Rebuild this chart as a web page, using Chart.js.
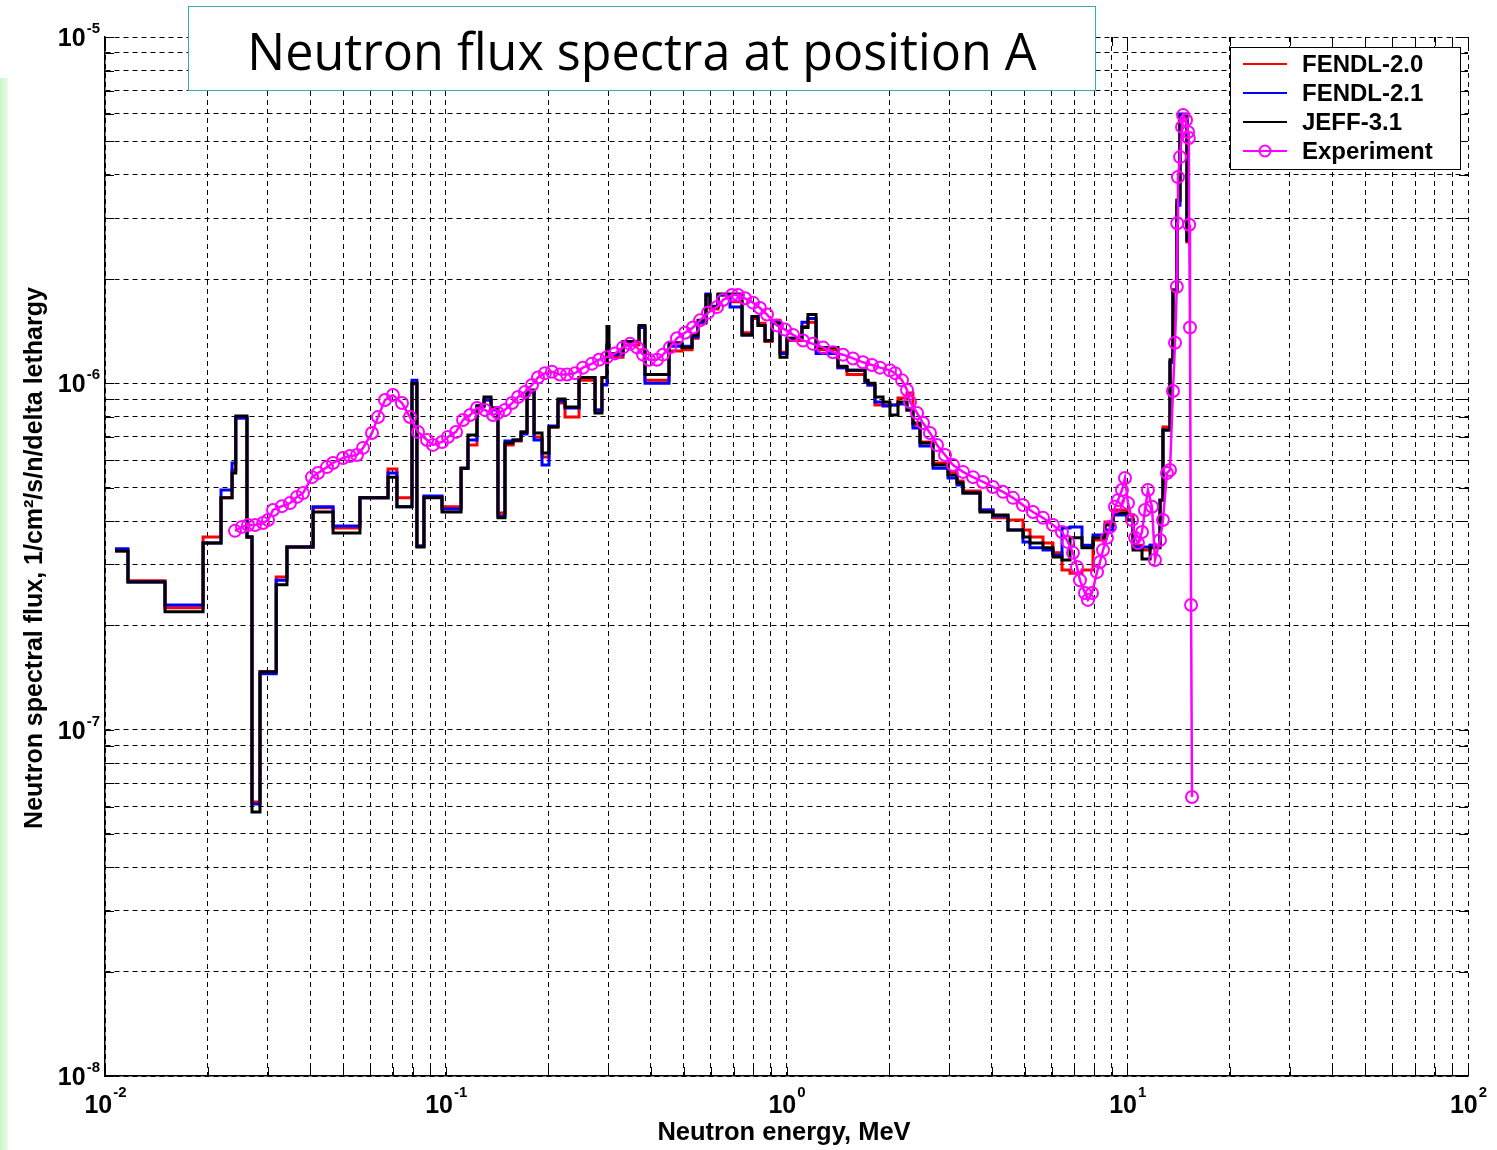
<!DOCTYPE html>
<html>
<head>
<meta charset="utf-8">
<title>Neutron flux spectra at position A</title>
<script src="https://cdn.jsdelivr.net/npm/chart.js@4.4.1/dist/chart.umd.min.js"></script>
<style>
  html, body { margin: 0; padding: 0; background: #fff; }
  #wrap { position: relative; width: 1497px; height: 1150px; overflow: hidden; }
  #strip { position: absolute; left: 0; top: 78px; width: 8px; height: 1072px;
           background: linear-gradient(to right, #c6f6c6, #e8fbe8); }
  #chart { position: absolute; left: 0; top: 0; }
  #title { position: absolute; left: 188px; top: 6px; width: 906px; height: 83px;
           border: 1.5px solid #3aabab; background: #fff;
           display: flex; align-items: center; justify-content: center;
           font-family: "Open Sans", "DejaVu Sans", sans-serif; color: #000; white-space: nowrap; }
</style>
</head>
<body>
<div id="wrap">
  <div id="strip"></div>
  <canvas id="chart" width="1497" height="1150"></canvas>
  <div id="title"><span id="titleText">Neutron flux spectra at position A</span></div>
</div>
<script>
// Group boundaries (MeV) shared by the three calculated spectra
const edgesMeV = [
  0.0107, 0.01168, 0.0150, 0.0194, 0.0219, 0.0236, 0.0242, 0.0261, 0.0270, 0.0285,
  0.0318, 0.0342, 0.0408, 0.0467, 0.0560, 0.0677, 0.0719, 0.0796, 0.0823, 0.0863,
  0.0975, 0.1109, 0.1162, 0.1235, 0.1295, 0.1358, 0.1423, 0.1492, 0.1576, 0.1663,
  0.1732, 0.1816, 0.1917, 0.2009, 0.2135, 0.2239, 0.2461, 0.2742, 0.2873, 0.2972,
  0.3013, 0.3313, 0.3692, 0.3843, 0.4521, 0.4936, 0.5282, 0.5500, 0.5804, 0.5963,
  0.6295, 0.6827, 0.7404, 0.7924, 0.8252, 0.8650, 0.9067, 0.9570, 1.003, 1.110,
  1.156, 1.221, 1.360, 1.416, 1.505, 1.700, 1.735, 1.818, 1.920, 2.012,
  2.124, 2.257, 2.350, 2.465, 2.691, 2.979, 3.165, 3.296, 3.698, 4.036,
  4.467, 4.943, 5.183, 5.658, 6.053, 6.434, 6.792, 7.365, 7.934, 8.605,
  9.082, 9.98, 10.40, 11.05, 11.67, 12.48, 12.73, 13.35, 13.62, 13.99,
  14.28, 14.97, 15.28
];

const fendl20 = [
  3.28e-7, 2.69e-7, 2.25e-7, 3.60e-7, 4.67e-7, 5.62e-7, 7.94e-7, 3.60e-7, 6.18e-8, 1.47e-7,
  2.76e-7, 3.37e-7, 4.37e-7, 3.82e-7, 4.67e-7, 5.66e-7, 4.67e-7, 9.96e-7, 3.39e-7, 4.70e-7,
  4.40e-7, 5.69e-7, 6.64e-7, 8.60e-7, 8.95e-7, 8.49e-7, 4.22e-7, 6.64e-7, 6.82e-7, 7.24e-7,
  9.44e-7, 7.00e-7, 6.13e-7, 7.48e-7, 8.77e-7, 7.99e-7, 1.02e-6, 8.38e-7, 1.04e-6, 1.29e-6,
  1.19e-6, 1.29e-6, 1.45e-6, 1.02e-6, 1.24e-6, 1.25e-6, 1.35e-6, 1.49e-6, 1.80e-6, 1.64e-6,
  1.80e-6, 1.72e-6, 1.40e-6, 1.54e-6, 1.49e-6, 1.32e-6, 1.52e-6, 1.23e-6, 1.33e-6, 1.46e-6,
  1.50e-6, 1.25e-6, 1.25e-6, 1.11e-6, 1.06e-6, 1.01e-6, 9.89e-7, 8.66e-7, 8.66e-7, 8.66e-7,
  9.07e-7, 9.38e-7, 7.58e-7, 6.77e-7, 5.89e-7, 5.55e-7, 5.22e-7, 4.89e-7, 4.31e-7, 4.09e-7,
  4.03e-7, 3.77e-7, 3.60e-7, 3.46e-7, 3.24e-7, 2.89e-7, 2.83e-7, 2.89e-7, 3.53e-7, 3.98e-7,
  4.31e-7, 4.17e-7, 3.41e-7, 3.30e-7, 3.41e-7, 4.60e-7, 7.48e-7, 1.15e-6, 1.86e-6, 3.38e-6,
  5.91e-6, 2.56e-6
];

const fendl21 = [
  3.33e-7, 2.67e-7, 2.29e-7, 3.46e-7, 4.92e-7, 5.89e-7, 7.94e-7, 3.60e-7, 6.10e-8, 1.45e-7,
  2.70e-7, 3.37e-7, 4.40e-7, 3.87e-7, 4.67e-7, 5.51e-7, 4.40e-7, 1.02e-6, 3.39e-7, 4.73e-7,
  4.34e-7, 5.69e-7, 6.86e-7, 8.60e-7, 8.95e-7, 8.38e-7, 4.14e-7, 6.82e-7, 6.86e-7, 7.14e-7,
  9.44e-7, 6.86e-7, 5.81e-7, 7.53e-7, 8.89e-7, 8.49e-7, 1.04e-6, 8.38e-7, 9.89e-7, 1.29e-6,
  1.21e-6, 1.32e-6, 1.45e-6, 1.00e-6, 1.28e-6, 1.28e-6, 1.36e-6, 1.50e-6, 1.81e-6, 1.67e-6,
  1.80e-6, 1.66e-6, 1.38e-6, 1.56e-6, 1.47e-6, 1.33e-6, 1.50e-6, 1.22e-6, 1.35e-6, 1.50e-6,
  1.54e-6, 1.22e-6, 1.22e-6, 1.11e-6, 1.09e-6, 1.01e-6, 9.89e-7, 8.83e-7, 8.60e-7, 8.66e-7,
  8.72e-7, 8.38e-7, 7.43e-7, 6.59e-7, 5.69e-7, 5.33e-7, 5.09e-7, 4.82e-7, 4.31e-7, 4.14e-7,
  3.77e-7, 3.48e-7, 3.35e-7, 3.30e-7, 3.19e-7, 3.82e-7, 3.85e-7, 3.41e-7, 3.65e-7, 3.77e-7,
  4.17e-7, 4.03e-7, 3.37e-7, 3.37e-7, 3.41e-7, 4.60e-7, 7.33e-7, 1.15e-6, 1.84e-6, 3.27e-6,
  5.99e-6, 2.59e-6
];

const jeff31 = [
  3.28e-7, 2.67e-7, 2.19e-7, 3.46e-7, 4.67e-7, 5.51e-7, 8.05e-7, 3.60e-7, 5.78e-8, 1.47e-7,
  2.62e-7, 3.37e-7, 4.25e-7, 3.70e-7, 4.67e-7, 5.36e-7, 4.40e-7, 1.00e-6, 3.37e-7, 4.67e-7,
  4.25e-7, 5.69e-7, 7.09e-7, 8.60e-7, 9.13e-7, 8.49e-7, 4.09e-7, 6.73e-7, 6.86e-7, 7.24e-7,
  9.57e-7, 7.19e-7, 6.29e-7, 7.48e-7, 9.01e-7, 8.54e-7, 1.04e-6, 8.21e-7, 1.04e-6, 1.46e-6,
  1.22e-6, 1.32e-6, 1.47e-6, 1.06e-6, 1.31e-6, 1.27e-6, 1.38e-6, 1.52e-6, 1.80e-6, 1.66e-6,
  1.81e-6, 1.81e-6, 1.38e-6, 1.56e-6, 1.47e-6, 1.33e-6, 1.49e-6, 1.19e-6, 1.35e-6, 1.45e-6,
  1.58e-6, 1.27e-6, 1.27e-6, 1.12e-6, 1.09e-6, 1.02e-6, 1.00e-6, 9.13e-7, 8.83e-7, 8.10e-7,
  8.83e-7, 8.38e-7, 7.68e-7, 6.73e-7, 5.81e-7, 5.44e-7, 5.16e-7, 4.82e-7, 4.25e-7, 4.17e-7,
  3.77e-7, 3.60e-7, 3.46e-7, 3.35e-7, 3.15e-7, 3.09e-7, 3.58e-7, 3.35e-7, 3.58e-7, 3.90e-7,
  4.22e-7, 4.03e-7, 3.30e-7, 3.11e-7, 3.35e-7, 4.60e-7, 7.33e-7, 1.17e-6, 1.86e-6, 3.38e-6,
  5.91e-6, 2.59e-6
];

// Measured spectrum
const expEnergy = [
  0.02407, 0.02524, 0.02628, 0.02756, 0.02909, 0.03009, 0.03112, 0.03307, 0.03491, 0.0366,
  0.03811, 0.0405, 0.04218, 0.04482, 0.04668, 0.04994, 0.05236, 0.05489, 0.05717, 0.06075,
  0.06326, 0.06632, 0.0700, 0.0744, 0.07854, 0.0829, 0.08811, 0.09174, 0.0975, 0.1015,
  0.1072, 0.1124, 0.1179, 0.1235, 0.1304, 0.1376, 0.1423, 0.1492, 0.1565, 0.1630,
  0.1708, 0.1791, 0.1865, 0.1955, 0.2050, 0.2164, 0.2269, 0.2396, 0.2527, 0.2687,
  0.2818, 0.2972, 0.3138, 0.3313, 0.3473, 0.3642, 0.3793, 0.3950, 0.4169, 0.4341,
  0.4551, 0.4771, 0.5037, 0.5318, 0.5576, 0.5886, 0.6252, 0.6511, 0.6921, 0.7207,
  0.7555, 0.7975, 0.8360, 0.8765, 0.9378, 0.9899, 1.045, 1.118, 1.196, 1.280,
  1.369, 1.465, 1.567, 1.677, 1.782, 1.881, 2.012, 2.082, 2.183, 2.258,
  2.304, 2.416, 2.516, 2.637, 2.765, 2.919, 3.081, 3.296, 3.527, 3.773,
  4.036, 4.318, 4.620, 4.943, 5.289, 5.658, 6.053, 6.433, 6.700, 6.930,
  7.120, 7.265, 7.515, 7.669, 7.880, 8.151, 8.318, 8.488, 8.721, 8.900,
  9.206, 9.395, 9.651, 9.849, 10.05, 10.33, 10.54, 10.75, 11.05, 11.27,
  11.50, 11.82, 12.06, 12.48, 12.73, 13.08, 13.35, 13.62, 13.81, 13.98,
  14.02, 14.09, 14.29, 14.48, 14.58, 14.88, 15.08, 15.16, 15.20, 15.28,
  15.39, 15.49
];
const expFlux = [
  3.75e-7, 3.85e-7, 3.90e-7, 3.90e-7, 3.95e-7, 4.03e-7, 4.31e-7, 4.42e-7, 4.51e-7, 4.70e-7,
  4.82e-7, 5.36e-7, 5.51e-7, 5.73e-7, 5.89e-7, 6.09e-7, 6.17e-7, 6.21e-7, 6.51e-7, 7.19e-7,
  7.99e-7, 8.95e-7, 9.25e-7, 8.77e-7, 7.99e-7, 7.24e-7, 6.86e-7, 6.64e-7, 6.77e-7, 7.00e-7,
  7.24e-7, 7.84e-7, 8.10e-7, 8.49e-7, 8.38e-7, 8.10e-7, 8.21e-7, 8.38e-7, 8.77e-7, 9.13e-7,
  9.44e-7, 9.89e-7, 1.04e-6, 1.07e-6, 1.08e-6, 1.06e-6, 1.06e-6, 1.07e-6, 1.11e-6, 1.14e-6,
  1.17e-6, 1.19e-6, 1.22e-6, 1.27e-6, 1.30e-6, 1.27e-6, 1.21e-6, 1.17e-6, 1.17e-6, 1.21e-6,
  1.27e-6, 1.35e-6, 1.40e-6, 1.45e-6, 1.52e-6, 1.60e-6, 1.66e-6, 1.74e-6, 1.80e-6, 1.80e-6,
  1.76e-6, 1.71e-6, 1.65e-6, 1.58e-6, 1.47e-6, 1.43e-6, 1.38e-6, 1.33e-6, 1.30e-6, 1.27e-6,
  1.23e-6, 1.21e-6, 1.18e-6, 1.15e-6, 1.13e-6, 1.11e-6, 1.09e-6, 1.07e-6, 1.02e-6, 9.57e-7,
  8.83e-7, 8.21e-7, 7.68e-7, 7.19e-7, 6.64e-7, 6.21e-7, 5.81e-7, 5.55e-7, 5.36e-7, 5.19e-7,
  5.02e-7, 4.86e-7, 4.67e-7, 4.45e-7, 4.25e-7, 4.09e-7, 3.90e-7, 3.72e-7, 3.48e-7, 3.24e-7,
  2.95e-7, 2.70e-7, 2.48e-7, 2.37e-7, 2.48e-7, 2.85e-7, 3.05e-7, 3.30e-7, 3.58e-7, 3.85e-7,
  4.40e-7, 4.60e-7, 4.92e-7, 5.33e-7, 4.51e-7, 4.03e-7, 3.58e-7, 3.46e-7, 3.72e-7, 4.31e-7,
  4.92e-7, 4.40e-7, 3.09e-7, 3.53e-7, 4.03e-7, 5.51e-7, 5.62e-7, 9.50e-7, 1.31e-6, 1.90e-6,
  2.90e-6, 3.94e-6, 4.50e-6, 5.50e-6, 5.95e-6, 5.76e-6, 5.32e-6, 5.11e-6, 2.87e-6, 1.45e-6,
  2.29e-7, 6.39e-8
];

// Axes
const xDecades = [0.01, 0.1, 1, 10];
const yDecades = [1e-8, 1e-7, 1e-6];
const gridMultipliers = [1, 2, 3, 4, 5, 6, 7, 8, 9];
const xTickValues = [0.01, 0.1, 1, 10, 100];
const xTickExponents = ['-2', '-1', '0', '1', '2'];
const yTickValues = [1e-8, 1e-7, 1e-6, 1e-5];
const yTickExponents = ['-8', '-7', '-6', '-5'];

function gridValues(decades, last) {
  const out = [];
  decades.forEach(d => gridMultipliers.forEach(m => out.push(parseFloat((m * d).toPrecision(3)))));
  out.push(last);
  return out;
}
const xGridValues = gridValues(xDecades, 100);
const yGridValues = gridValues(yDecades, 1e-5);

function stairs(edges, values) {
  const pts = values.map((v, i) => ({ x: edges[i], y: v }));
  pts.push({ x: edges[edges.length - 1], y: values[values.length - 1] });
  return pts;
}

const LABEL_FONT = '"Liberation Sans", Arial, sans-serif';

// tick labels, axis titles, inner tick marks and legend box
const decorations = {
  id: 'decorations',
  afterDraw(chart) {
    const { ctx, chartArea: a, scales: { x, y } } = chart;
    ctx.save();

    ctx.strokeStyle = '#000';
    ctx.lineWidth = 1;
    ctx.setLineDash([]);
    ctx.beginPath();
    xGridValues.forEach(v => {
      const px = Math.round(x.getPixelForValue(v)) + 0.5;
      ctx.moveTo(px, a.bottom); ctx.lineTo(px, a.bottom - 9);
      ctx.moveTo(px, a.top); ctx.lineTo(px, a.top + 9);
    });
    yGridValues.forEach(v => {
      const py = Math.round(y.getPixelForValue(v)) + 0.5;
      ctx.moveTo(a.left, py); ctx.lineTo(a.left + 9, py);
      ctx.moveTo(a.right, py); ctx.lineTo(a.right - 9, py);
    });
    ctx.stroke();

    ctx.fillStyle = '#000';
    ctx.textBaseline = 'alphabetic';
    const baseFont = 'bold 25px ' + LABEL_FONT;
    const expFont = 'bold 15px ' + LABEL_FONT;

    xTickValues.forEach((v, i) => {
      const px = x.getPixelForValue(v);
      ctx.font = baseFont;
      const wb = ctx.measureText('10').width;
      ctx.font = expFont;
      const we = ctx.measureText(xTickExponents[i]).width;
      const left = px - (wb + we) / 2;
      ctx.font = baseFont;
      ctx.fillText('10', left, a.bottom + 37);
      ctx.font = expFont;
      ctx.fillText(xTickExponents[i], left + wb + 1, a.bottom + 21);
    });

    yTickValues.forEach((v, i) => {
      const py = y.getPixelForValue(v);
      ctx.font = expFont;
      const we = ctx.measureText(yTickExponents[i]).width;
      ctx.font = baseFont;
      const wb = ctx.measureText('10').width;
      const right = a.left - 5;
      ctx.font = baseFont;
      ctx.fillText('10', right - we - wb - 1, py + 9);
      ctx.font = expFont;
      ctx.fillText(yTickExponents[i], right - we, py - 4);
    });

    ctx.font = 'bold 25.5px ' + LABEL_FONT;
    ctx.textAlign = 'center';
    ctx.textBaseline = 'middle';
    ctx.fillText('Neutron energy, MeV', 784, 1133);
    ctx.save();
    ctx.translate(35, 558);
    ctx.rotate(-Math.PI / 2);
    ctx.font = 'bold 25px ' + LABEL_FONT;
    ctx.fillText('Neutron spectral flux, 1/cm\u00B2/s/n/delta lethargy', 0, 0);
    ctx.restore();

    // legend
    const lx = 1230.5, ly = 47.5, lw = 230, lh = 122;
    ctx.fillStyle = '#fff';
    ctx.fillRect(lx, ly, lw, lh);
    ctx.strokeStyle = '#000';
    ctx.lineWidth = 1;
    ctx.strokeRect(lx, ly, lw, lh);
    ctx.textAlign = 'left';
    ctx.font = 'bold 24px ' + LABEL_FONT;
    chart.data.datasets.forEach((ds, i) => {
      const rowY = 64 + i * 29;
      ctx.strokeStyle = ds.borderColor;
      ctx.lineWidth = 2;
      ctx.beginPath();
      ctx.moveTo(1243, rowY); ctx.lineTo(1287, rowY);
      ctx.stroke();
      if (ds.pointRadius > 0) {
        ctx.beginPath();
        ctx.arc(1265, rowY, 5.5, 0, Math.PI * 2);
        ctx.stroke();
      }
      ctx.fillStyle = '#000';
      ctx.fillText(ds.label, 1302, rowY + 1);
    });

    ctx.restore();
  }
};

const lineStyle = { borderWidth: 3, pointRadius: 0, stepped: true, fill: false };

new Chart(document.getElementById('chart'), {
  type: 'line',
  data: {
    datasets: [
      Object.assign({ label: 'FENDL-2.0', data: stairs(edgesMeV, fendl20), borderColor: '#ff0000', order: 3 }, lineStyle),
      Object.assign({ label: 'FENDL-2.1', data: stairs(edgesMeV, fendl21), borderColor: '#0000ff', order: 2 }, lineStyle),
      Object.assign({ label: 'JEFF-3.1', data: stairs(edgesMeV, jeff31), borderColor: '#000000', order: 1 }, lineStyle),
      {
        label: 'Experiment',
        data: expEnergy.map((e, i) => ({ x: e, y: expFlux[i] })),
        borderColor: '#ff00ff',
        borderWidth: 2.5,
        pointRadius: 6,
        pointBorderWidth: 2,
        pointBackgroundColor: 'rgba(0,0,0,0)',
        pointBorderColor: '#ff00ff',
        fill: false,
        order: 0
      }
    ]
  },
  options: {
    responsive: false,
    animation: false,
    devicePixelRatio: 1,
    layout: { padding: { left: 105, right: 29, top: 37, bottom: 74 } },
    plugins: { legend: { display: false }, tooltip: { enabled: false } },
    scales: {
      x: {
        type: 'logarithmic', min: 0.01, max: 100,
        afterBuildTicks: s => { s.ticks = xGridValues.map(v => ({ value: v })); },
        ticks: { display: false },
        grid: { color: '#000', lineWidth: 1, drawTicks: false, tickLength: 0 },
        border: { display: true, color: '#000', width: 1.5, dash: [5, 4] }
      },
      y: {
        type: 'logarithmic', min: 1e-8, max: 1e-5,
        afterBuildTicks: s => { s.ticks = yGridValues.map(v => ({ value: v })); },
        ticks: { display: false },
        grid: { color: '#000', lineWidth: 1, drawTicks: false, tickLength: 0 },
        border: { display: true, color: '#000', width: 1.5, dash: [5, 4] }
      }
    }
  },
  plugins: [decorations]
});

// fit the title text to the width it has in the original slide
(function () {
  const span = document.getElementById('titleText');
  const c = document.createElement('canvas').getContext('2d');
  c.font = '50px "Open Sans"';
  const w = c.measureText(span.textContent).width;
  span.style.fontSize = (50 * 789 / w).toFixed(1) + 'px';
  span.style.position = 'relative';
  span.style.top = '2px';
})();
</script>
</body>
</html>
